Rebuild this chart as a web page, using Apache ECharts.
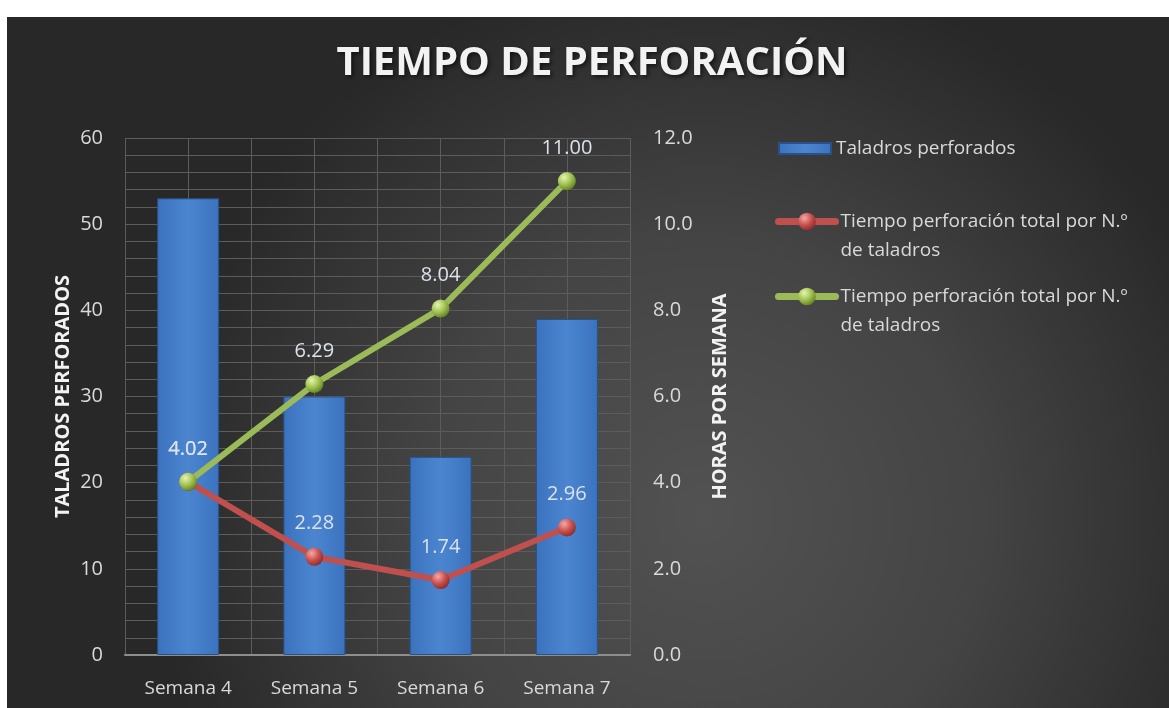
<!DOCTYPE html>
<html>
<head>
<meta charset="utf-8">
<script src="https://cdn.jsdelivr.net/npm/echarts@6/dist/echarts.min.js"></script>
<style>
  html, body { margin: 0; padding: 0; background: #ffffff; }
  #chart { position: absolute; left: 7px; top: 17px; width: 1162px; height: 691px; }
</style>
</head>
<body>
<div id="chart"></div>
<script>
// datos del gráfico
const semanas = ['Semana 4', 'Semana 5', 'Semana 6', 'Semana 7']
const taladros = [53, 30, 23, 39]
const tiempoRojo = [4.02, 2.28, 1.74, 2.96]
const tiempoVerde = [4.02, 6.29, 8.04, 11.00]

const nombreBarra = 'Taladros perforados'
const nombreRojo = 'Tiempo perforación total por N.º de taladros'
const nombreVerde = 'Tiempo perforación total por N.º de taladros ' // mismo texto, otra serie

const fuente = '"Open Sans", "DejaVu Sans", sans-serif'
const gris = '#5c5c5c'

function esfera(claro, medio, oscuro) {
    return {
        type: 'radial', x: 0.35, y: 0.3, r: 0.75,
        colorStops: [
            { offset: 0, color: claro },
            { offset: 0.55, color: medio },
            { offset: 1, color: oscuro }
        ]
    }
}

const colorBarra = {
    type: 'linear', x: 0, y: 0, x2: 1, y2: 0,
    colorStops: [
        { offset: 0, color: '#3b72bd' },
        { offset: 0.5, color: '#4b85d0' },
        { offset: 1, color: '#3b72bd' }
    ]
}

function leyenda(nombre, left, top, ancho, alto, dosLineas) {
    return {
        data: [nombre],
        left: left,
        top: top,
        orient: 'vertical',
        padding: 0,
        itemWidth: ancho,
        itemHeight: alto,
        itemGap: 0,
        selectedMode: false,
        // la línea vacía inicial deja la primera línea a la altura del icono
        formatter: function(n) {
            return dosLineas ? '\nTiempo perforación total por N.º\nde taladros' : n
        },
        lineStyle: { width: 7, cap: 'round' },
        textStyle: {
            color: '#d9d9d9',
            fontSize: 19,
            fontFamily: fuente,
            lineHeight: 29
        }
    }
}

const chart = echarts.init(document.getElementById('chart'))
const options = {
    backgroundColor: {
        type: 'radial', x: 0.6, y: 0.72, r: 0.8,
        colorStops: [
            { offset: 0, color: '#525252' },
            { offset: 0.5, color: '#444444' },
            { offset: 1, color: '#282828' }
        ]
    },
    title: {
        text: 'TIEMPO DE PERFORACIÓN',
        left: 580,
        top: 22,
        textAlign: 'center',
        textStyle: {
            color: '#f2f2f2',
            fontSize: 40,
            fontWeight: 'bold',
            fontFamily: fuente,
            textShadowColor: 'rgba(0,0,0,0.6)',
            textShadowBlur: 4,
            textShadowOffsetX: 2,
            textShadowOffsetY: 2
        }
    },
    legend: [
        Object.assign(leyenda(nombreBarra, 771, 117, 52, 11, false), { icon: 'rect' }),
        leyenda(nombreRojo, 768, 161, 57, 22, true),
        leyenda(nombreVerde, 768, 236, 57, 22, true)
    ],
    grid: { left: 118, right: 539, top: 121, bottom: 53 },
    xAxis: [
        {
            type: 'category',
            data: semanas,
            axisLine: { lineStyle: { color: '#8e8e8e', width: 2 } },
            axisTick: { show: false },
            splitLine: { show: false },
            axisLabel: { color: '#d9d9d9', fontSize: 19, fontFamily: fuente, margin: 24 }
        },
        {
            // solo para las líneas verticales de la cuadrícula
            type: 'value',
            min: 0,
            max: 4,
            interval: 0.5,
            position: 'bottom',
            axisLine: { show: false },
            axisTick: { show: false },
            axisLabel: { show: false },
            splitLine: { show: true, lineStyle: { color: gris, width: 1 } }
        }
    ],
    yAxis: [
        {
            type: 'value',
            min: 0,
            max: 60,
            interval: 10,
            name: 'TALADROS PERFORADOS',
            nameLocation: 'middle',
            nameRotate: 90,
            nameGap: 52,
            nameTextStyle: { color: '#f2f2f2', fontSize: 20, fontWeight: 'bold', fontFamily: fuente },
            axisLine: { show: false },
            axisTick: { show: false },
            axisLabel: { color: '#d9d9d9', fontSize: 20, fontFamily: fuente, margin: 22 },
            splitLine: { lineStyle: { color: gris, width: 1 } },
            minorTick: { show: false, splitNumber: 5 },
            minorSplitLine: { show: true, lineStyle: { color: gris, width: 1 } }
        },
        {
            type: 'value',
            min: 0,
            max: 12,
            interval: 2,
            position: 'right',
            name: 'HORAS POR SEMANA',
            nameLocation: 'middle',
            nameRotate: 90,
            nameGap: 80,
            nameTextStyle: { color: '#f2f2f2', fontSize: 20, fontWeight: 'bold', fontFamily: fuente },
            axisLine: { show: false },
            axisTick: { show: false },
            axisLabel: {
                color: '#d9d9d9', fontSize: 20, fontFamily: fuente, margin: 23,
                formatter: function(v) { return v.toFixed(1) }
            },
            splitLine: { show: false }
        }
    ],
    series: [
        {
            name: nombreBarra,
            type: 'bar',
            data: taladros,
            barWidth: 62,
            itemStyle: { color: colorBarra, borderColor: '#2a5088', borderWidth: 1 },
            z: 2
        },
        {
            name: nombreRojo,
            type: 'line',
            yAxisIndex: 1,
            data: tiempoRojo,
            symbol: 'circle',
            symbolSize: 18,
            lineStyle: { color: '#c0504d', width: 6 },
            itemStyle: { color: esfera('#f4a8a6', '#c8504d', '#8a2a28') },
            label: {
                show: true, position: 'top', distance: 14,
                color: '#dbe2ea', fontSize: 20, fontFamily: fuente,
                formatter: function(p) { return p.value.toFixed(2) }
            },
            z: 3
        },
        {
            name: nombreVerde,
            type: 'line',
            yAxisIndex: 1,
            data: tiempoVerde,
            symbol: 'circle',
            symbolSize: 18,
            lineStyle: { color: '#9bbb59', width: 6 },
            itemStyle: { color: esfera('#e6f5b0', '#9fc04f', '#5f7f22') },
            label: {
                show: true, position: 'top', distance: 14,
                color: '#dbe2ea', fontSize: 20, fontFamily: fuente,
                formatter: function(p) { return p.value.toFixed(2) }
            },
            z: 4
        }
    ]
}
chart.setOption(options)
</script>
</body>
</html>
